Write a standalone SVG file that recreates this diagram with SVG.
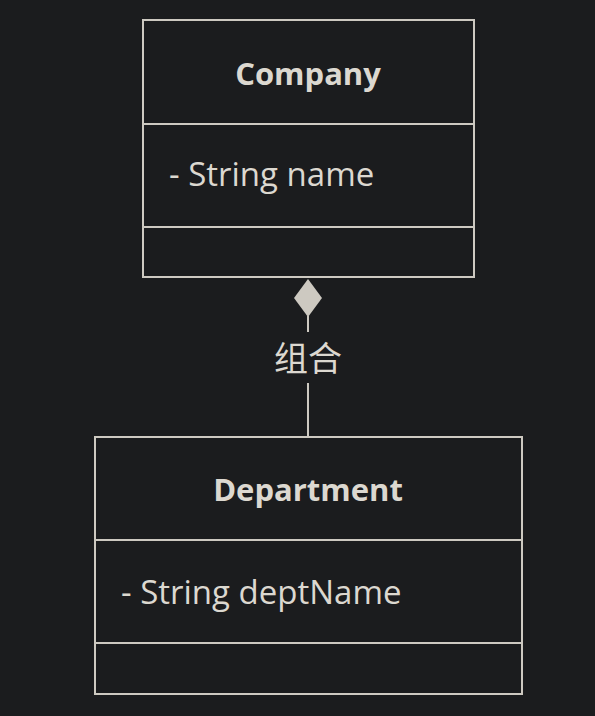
<svg xmlns="http://www.w3.org/2000/svg" width="595" height="716" viewBox="0 0 595 716">
<style>
.bg{fill:#1b1c1e}
.box{fill:#1b1c1e;stroke:#cdc9c1;stroke-width:2}
.div{stroke:#cdc9c1;stroke-width:2}
.t{fill:#dcd8d0;font-family:"Open Sans","DejaVu Sans",sans-serif;font-size:33px}
.b{font-weight:bold;text-anchor:middle;font-size:31px}
.lbl{fill:#dcd8d0;font-family:"Noto Sans CJK SC",sans-serif;font-size:34px;text-anchor:middle}
.edge{stroke:#cdc9c1;stroke-width:2;fill:none}
</style>
<rect class="bg" width="595" height="716"/>
<g id="edges">
<line class="edge" x1="308" y1="316" x2="308" y2="332"/>
<line class="edge" x1="308" y1="383" x2="308" y2="437"/>
<polygon points="308,279 322,298 308,317 294,298" fill="#cdc9c1"/>
<text class="lbl" x="308" y="371">组合</text>
</g>
<g id="Company">
<rect class="box" x="143" y="20" width="331" height="257"/>
<line class="div" x1="143" y1="124" x2="474" y2="124"/>
<line class="div" x1="143" y1="227" x2="474" y2="227"/>
<text class="t b" x="308" y="85">Company</text>
<text class="t" x="169" y="186">- String name</text>
</g>
<g id="Department">
<rect class="box" x="95" y="437" width="427" height="257"/>
<line class="div" x1="95" y1="540" x2="522" y2="540"/>
<line class="div" x1="95" y1="643" x2="522" y2="643"/>
<text class="t b" x="308" y="501">Department</text>
<text class="t" x="121" y="604">- String deptName</text>
</g>
</svg>
